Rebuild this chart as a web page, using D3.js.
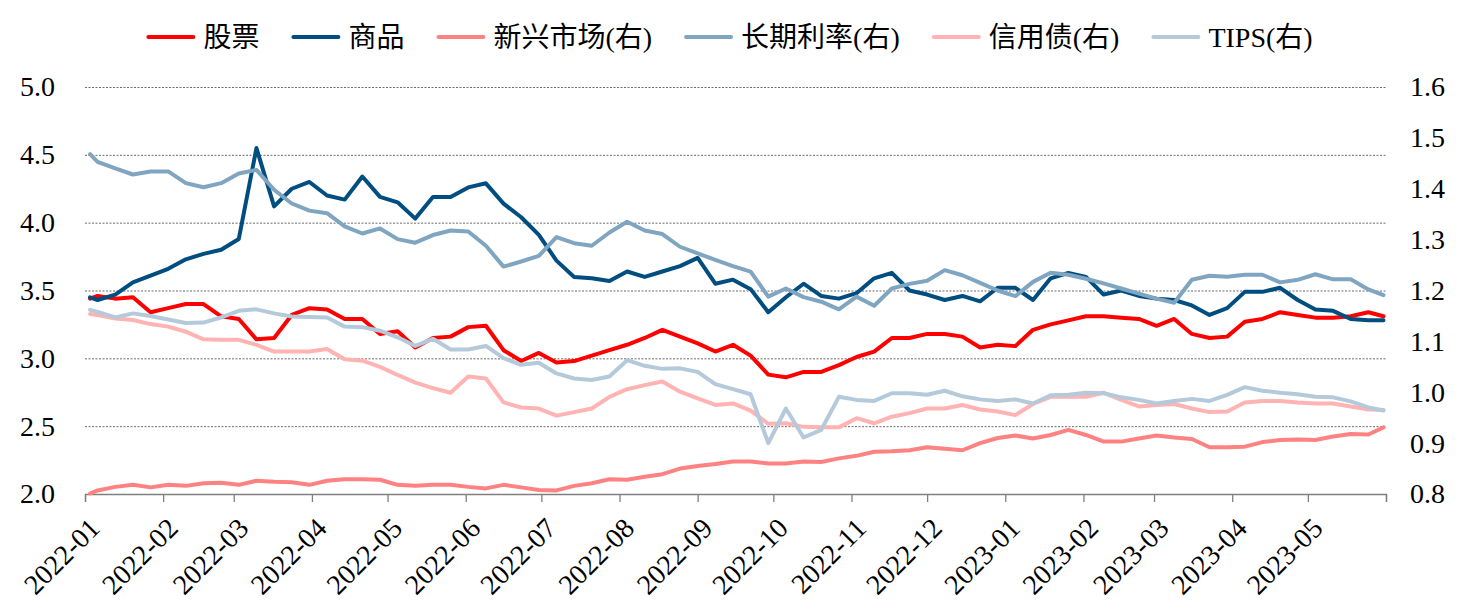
<!DOCTYPE html>
<html>
<head>
<meta charset="utf-8">
<script src="https://cdn.jsdelivr.net/npm/d3@7"></script>
<style>
    body { margin: 0; background: #fff; }
    text { font-family: "Liberation Serif", "Times New Roman", "Noto Sans CJK SC", serif; fill: #000; }
</style>
</head>
<body>
<svg id="chart"></svg>
<script>
// weekly samples (Thursdays)
var dates = ["2022-01-03","2022-01-06","2022-01-13","2022-01-20","2022-01-27",
    "2022-02-03","2022-02-10","2022-02-17","2022-02-24",
    "2022-03-03","2022-03-10","2022-03-17","2022-03-24","2022-03-31",
    "2022-04-07","2022-04-14","2022-04-21","2022-04-28",
    "2022-05-05","2022-05-12","2022-05-19","2022-05-26",
    "2022-06-02","2022-06-09","2022-06-16","2022-06-23","2022-06-30",
    "2022-07-07","2022-07-14","2022-07-21","2022-07-28",
    "2022-08-04","2022-08-11","2022-08-18","2022-08-25",
    "2022-09-01","2022-09-08","2022-09-15","2022-09-22","2022-09-29",
    "2022-10-06","2022-10-13","2022-10-20","2022-10-27",
    "2022-11-03","2022-11-10","2022-11-17","2022-11-24",
    "2022-12-01","2022-12-08","2022-12-15","2022-12-22","2022-12-29",
    "2023-01-05","2023-01-12","2023-01-19","2023-01-26",
    "2023-02-02","2023-02-09","2023-02-16","2023-02-23",
    "2023-03-02","2023-03-09","2023-03-16","2023-03-23","2023-03-30",
    "2023-04-06","2023-04-13","2023-04-20","2023-04-27",
    "2023-05-04","2023-05-11","2023-05-18","2023-05-25","2023-05-31"];

// left axis
var stock = [3.44, 3.46,3.44,3.45,3.34, 3.37,3.40,3.40,3.31, 3.29,3.14,3.15,3.32,3.37,
    3.36,3.29,3.29,3.18, 3.20,3.08,3.15,3.16, 3.23,3.24,3.06,2.98,3.04,
    2.97,2.98,3.02,3.06, 3.10,3.15,3.21,3.16, 3.11,3.05,3.10,3.02,2.88,
    2.86,2.90,2.90,2.95, 3.01,3.05,3.15,3.15, 3.18,3.18,3.16,3.08,3.10,
    3.09,3.21,3.25,3.28, 3.31,3.31,3.30,3.29, 3.24,3.29,3.18,3.15,3.16,
    3.27,3.29,3.34,3.32, 3.30,3.30,3.31,3.34, 3.31];
var commodity = [3.45, 3.43,3.47,3.56,3.61, 3.66,3.73,3.77,3.80, 3.88,4.55,4.12,4.25,4.30,
    4.20,4.17,4.34,4.19, 4.15,4.03,4.19,4.19, 4.26,4.29,4.14,4.04,3.91,
    3.72,3.60,3.59,3.57, 3.64,3.60,3.64,3.68, 3.74,3.55,3.58,3.51,3.34,
    3.45,3.55,3.46,3.44, 3.48,3.59,3.63,3.50, 3.47,3.43,3.46,3.42,3.52,
    3.52,3.43,3.59,3.63, 3.60,3.47,3.50,3.46, 3.44,3.43,3.39,3.32,3.37,
    3.49,3.49,3.52,3.43, 3.36,3.35,3.29,3.28, 3.28];
// right axis
var emerging = [0.801, 0.807,0.814,0.818,0.813, 0.818,0.816,0.821,0.822, 0.818,0.826,0.824,0.823,0.818,
    0.826,0.829,0.829,0.828, 0.818,0.816,0.818,0.818, 0.814,0.811,0.818,0.813,0.808,
    0.807,0.816,0.821,0.829, 0.828,0.834,0.839,0.850, 0.855,0.859,0.864,0.864,0.860,
    0.860,0.864,0.863,0.870, 0.875,0.883,0.884,0.886, 0.892,0.889,0.886,0.900,0.910,
    0.915,0.909,0.916,0.926, 0.916,0.903,0.903,0.909, 0.915,0.911,0.908,0.892,0.892,
    0.893,0.902,0.906,0.907, 0.906,0.913,0.918,0.917, 0.931];
var longRate = [1.468, 1.453,1.440,1.428,1.434, 1.434,1.411,1.403,1.411, 1.430,1.437,1.398,1.371,1.357,
    1.352,1.326,1.312,1.322, 1.301,1.294,1.309,1.318, 1.316,1.288,1.247,1.257,1.268,
    1.305,1.293,1.288,1.314, 1.335,1.318,1.311,1.286, 1.273,1.260,1.248,1.237,1.188,
    1.204,1.187,1.178,1.163, 1.188,1.170,1.204,1.213, 1.219,1.240,1.230,1.215,1.200,
    1.189,1.217,1.235,1.231, 1.223,1.214,1.204,1.194, 1.184,1.176,1.221,1.229,1.227,
    1.231,1.231,1.216,1.221, 1.232,1.222,1.222,1.202, 1.191];
var credit = [1.154, 1.152,1.145,1.142,1.134, 1.129,1.119,1.104,1.103, 1.103,1.093,1.080,1.080,1.080,
    1.085,1.065,1.062,1.050, 1.034,1.019,1.008,0.999, 1.031,1.027,0.980,0.970,0.968,
    0.954,0.961,0.968,0.991, 1.006,1.014,1.021,1.001, 0.988,0.975,0.978,0.964,0.938,
    0.939,0.932,0.931,0.931, 0.949,0.939,0.952,0.959, 0.968,0.968,0.975,0.966,0.962,
    0.955,0.977,0.991,0.991, 0.991,0.999,0.985,0.972, 0.975,0.977,0.968,0.961,0.962,
    0.980,0.983,0.983,0.980, 0.978,0.978,0.972,0.966, 0.965];
var tips = [1.162, 1.158,1.147,1.155,1.150, 1.143,1.136,1.137,1.147, 1.160,1.163,1.155,1.149,1.148,
    1.147,1.129,1.128,1.121, 1.108,1.091,1.105,1.084, 1.084,1.091,1.067,1.054,1.058,
    1.037,1.027,1.024,1.031, 1.063,1.052,1.046,1.047, 1.040,1.016,1.006,0.996,0.900,
    0.968,0.911,0.926,0.991, 0.985,0.983,0.998,0.998, 0.995,1.003,0.992,0.986,0.983,
    0.986,0.978,0.994,0.995, 0.999,0.998,0.990,0.985, 0.978,0.983,0.987,0.983,0.995,
    1.010,1.003,0.999,0.996, 0.991,0.990,0.982,0.970, 0.964];

var leftTicks = [2.0, 2.5, 3.0, 3.5, 4.0, 4.5, 5.0];
var rightTicks = [0.8, 0.9, 1.0, 1.1, 1.2, 1.3, 1.4, 1.5, 1.6];

var series = [
    { name: "股票", values: stock, axis: "left", color: "#ff0000" },
    { name: "商品", values: commodity, axis: "left", color: "#004e80" },
    { name: "新兴市场(右)", values: emerging, axis: "right", color: "#ff8282" },
    { name: "长期利率(右)", values: longRate, axis: "right", color: "#80a5c0" },
    { name: "信用债(右)", values: credit, axis: "right", color: "#ffb3b3" },
    { name: "TIPS(右)", values: tips, axis: "right", color: "#b4c9da" }
];

var width = 1461, height = 609;
var plot = { left: 85, right: 1386, top: 87, bottom: 494 };
var fontSize = 28;

var parse = d3.timeParse("%Y-%m-%d");
var xDates = dates.map(parse);

var svg = d3.select("#chart")
    .attr("width", width)
    .attr("height", height)
    .attr("viewBox", "0 0 " + width + " " + height);

var x = d3.scaleTime()
    .domain([new Date(2022, 0, 1), new Date(2023, 5, 1)])
    .range([plot.left, plot.right]);
var yL = d3.scaleLinear().domain([2, 5]).range([plot.bottom, plot.top]);
var yR = d3.scaleLinear().domain([0.8, 1.6]).range([plot.bottom, plot.top]);

// dotted gridlines
svg.append("g")
    .selectAll("line")
    .data(leftTicks.slice(1))
    .enter()
    .append("line")
    .attr("x1", plot.left)
    .attr("x2", plot.right)
    .attr("y1", function(d) { return yL(d) + 0.5; })
    .attr("y2", function(d) { return yL(d) + 0.5; })
    .style("stroke", "#6b6b6b")
    .style("stroke-width", 1)
    .style("stroke-dasharray", "2,1.5");

// left axis
var gl = svg.append("g")
    .attr("transform", "translate(" + plot.left + ",0)")
    .call(d3.axisLeft(yL).tickValues(leftTicks).tickFormat(d3.format(".1f")).tickSize(0).tickPadding(30));
gl.select(".domain").remove();
gl.selectAll("text").style("font-size", fontSize + "px");

// right axis
var gr = svg.append("g")
    .attr("transform", "translate(" + plot.right + ",0)")
    .call(d3.axisRight(yR).tickValues(rightTicks).tickFormat(d3.format(".1f")).tickSize(0).tickPadding(24));
gr.select(".domain").remove();
gr.selectAll("text").style("font-size", fontSize + "px");

// bottom axis
var months = d3.timeMonth.range(new Date(2022, 0, 1), new Date(2023, 5, 2));
var lastMonth = months[months.length - 1];
var monthFmt = d3.timeFormat("%Y-%m");
var gb = svg.append("g")
    .attr("transform", "translate(0," + plot.bottom + ")")
    .call(d3.axisBottom(x).tickValues(months).tickSizeOuter(0).tickSize(8)
        .tickFormat(function(d) { return d >= lastMonth ? "" : monthFmt(d); }));
gb.select(".domain").style("stroke", "#7f7f7f").style("stroke-width", 1.3);
gb.selectAll(".tick line").style("stroke", "#7f7f7f").style("stroke-width", 1.3);
gb.selectAll("text")
    .style("font-size", fontSize + "px")
    .attr("text-anchor", "end")
    .attr("x", 0)
    .attr("y", 0)
    .attr("dy", "0.35em")
    .attr("transform", "translate(9,29) rotate(-45)");

// lines
var lines = svg.append("g").attr("class", "lines");
series.forEach(function(s) {
    var yScale = s.axis === "left" ? yL : yR;
    var line = d3.line()
        .x(function(d, i) { return x(xDates[i]); })
        .y(function(d) { return yScale(d); });
    lines.append("path")
        .datum(s.values)
        .attr("d", line)
        .style("fill", "none")
        .style("stroke", s.color)
        .style("stroke-width", 4)
        .style("stroke-linejoin", "round")
        .style("stroke-linecap", "round");
});

// legend, centred above the plot
var legend = svg.append("g").attr("class", "legend");
var segLen = 45, segGap = 10, itemGap = 34, legendY = 37;
var items = legend.selectAll("g")
    .data(series)
    .enter()
    .append("g");
items.append("line")
    .attr("x1", 0)
    .attr("x2", segLen)
    .attr("y1", 0)
    .attr("y2", 0)
    .style("stroke", function(d) { return d.color; })
    .style("stroke-width", 4)
    .style("stroke-linecap", "round");
items.append("text")
    .attr("x", segLen + segGap)
    .attr("dy", "0.35em")
    .style("font-size", fontSize + "px")
    .text(function(d) { return d.name; });

var widths = [];
items.each(function() { widths.push(this.getBBox().width); });
var total = d3.sum(widths) + itemGap * (widths.length - 1);
var cx = (width - total) / 2;
items.attr("transform", function(d, i) {
    var px = cx;
    cx += widths[i] + itemGap;
    return "translate(" + px + "," + legendY + ")";
});
</script>
</body>
</html>
